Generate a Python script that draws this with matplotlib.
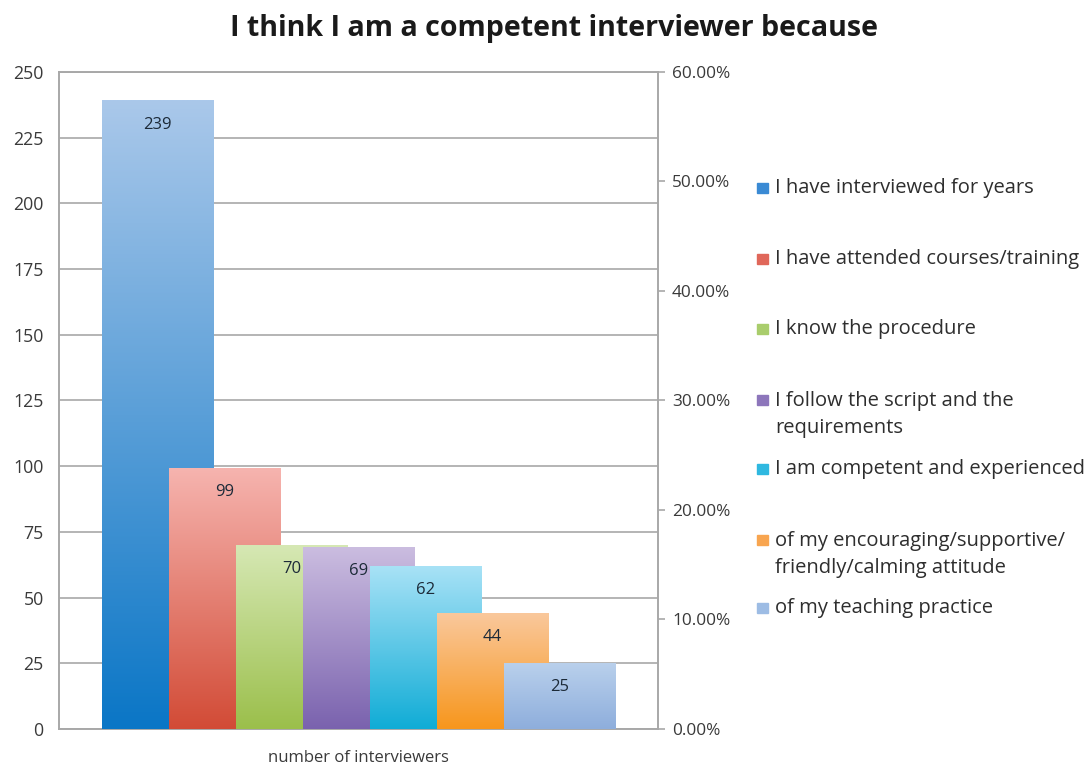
import numpy as np
import matplotlib
matplotlib.use("Agg")
import matplotlib.pyplot as plt
from matplotlib.colors import LinearSegmentedColormap
from matplotlib.patches import Rectangle

plt.rcParams['font.family'] = ['Open Sans', 'DejaVu Sans']

# survey answers
reasons = ["I have interviewed for years",
           "I have attended courses/training",
           "I know the procedure",
           "I follow the script and the\nrequirements",
           "I am competent and experienced",
           "of my encouraging/supportive/\nfriendly/calming attitude",
           "of my teaching practice"]
counts = [239, 99, 70, 69, 62, 44, 25]

# light (top) / strong (bottom) colour for each bar
top_cols = ["#aac8ea", "#f6b4af", "#d6e8b4", "#cbbde0", "#a8e2f6", "#fac89c", "#b9d0ec"]
bot_cols = ["#0a76c6", "#d24b36", "#9bbf4b", "#7a62ae", "#10acd6", "#f7961c", "#8eaedc"]
key_cols = ["#3a8ad4", "#e0675a", "#a9cd6c", "#8d76bb", "#2fb8e0", "#f8a550", "#9dbce4"]

fig = plt.figure(figsize=(10.88, 7.65), dpi=100)
ax = fig.add_axes([0.0542, 0.0471, 0.5506, 0.8588])

width = 1.67
for i, v in enumerate(counts):
    cmap = LinearSegmentedColormap.from_list("g%d" % i, [bot_cols[i], top_cols[i]])
    grad = np.linspace(0, 1, 256).reshape(-1, 1)
    ax.imshow(grad, cmap=cmap, origin="lower", aspect="auto",
              extent=[i - width / 2, i + width / 2, 0, v],
              interpolation="bilinear", zorder=3 + i)
    ax.text(i, v - 9, str(v), ha="center", va="center", fontsize=12,
            color="#1c2a38", zorder=20)

ax.set_xlim(3 - 4.47, 3 + 4.47)
ax.set_ylim(0, 250)
ax.set_yticks(np.arange(0, 251, 25))
ax.set_xticks([])
ax.grid(axis="y", color="#b4b4b4", linewidth=1.4, zorder=1)
ax.set_axisbelow(True)
for s in ax.spines.values():
    s.set_color("#a8a8a8")
    s.set_linewidth(1.4)
ax.tick_params(axis="y", length=0, labelsize=12.8, labelcolor="#3a3a3a", pad=11)
ax.set_xlabel("number of interviewers", fontsize=12, color="#3a3a3a", labelpad=15)

ax2 = ax.twinx()
ax2.set_ylim(0, 60)
ax2.set_yticks(np.arange(0, 61, 10))
ax2.set_yticklabels(["%.2f%%" % t for t in np.arange(0, 61, 10)])
ax2.tick_params(axis="y", length=5, width=1.2, color="#a8a8a8",
                labelsize=12.4, labelcolor="#3a3a3a", pad=5)
for s in ax2.spines.values():
    s.set_visible(False)

fig.text(0.509, 0.963, "I think I am a competent interviewer because",
         ha="center", va="center", fontsize=20.6, fontweight="bold", color="#1a1a1a")

# legend drawn by hand to keep the uneven spacing
key_y = [188, 259, 329, 400, 469, 540, 608]
for col, lab, y in zip(key_cols, reasons, key_y):
    fig.patches.append(Rectangle((757 / 1088, 1 - (y + 5) / 765), 11 / 1088, 10 / 765,
                                 transform=fig.transFigure, color=col))
    if "\n" in lab:
        fig.text(775 / 1088, 1 - (y - 9) / 765, lab, ha="left", va="top",
                 fontsize=14.5, color="#2e2e2e", linespacing=1.45)
    else:
        fig.text(775 / 1088, 1 - y / 765, lab, ha="left", va="center",
                 fontsize=14.5, color="#2e2e2e")

fig.savefig("out.png", dpi=100)
